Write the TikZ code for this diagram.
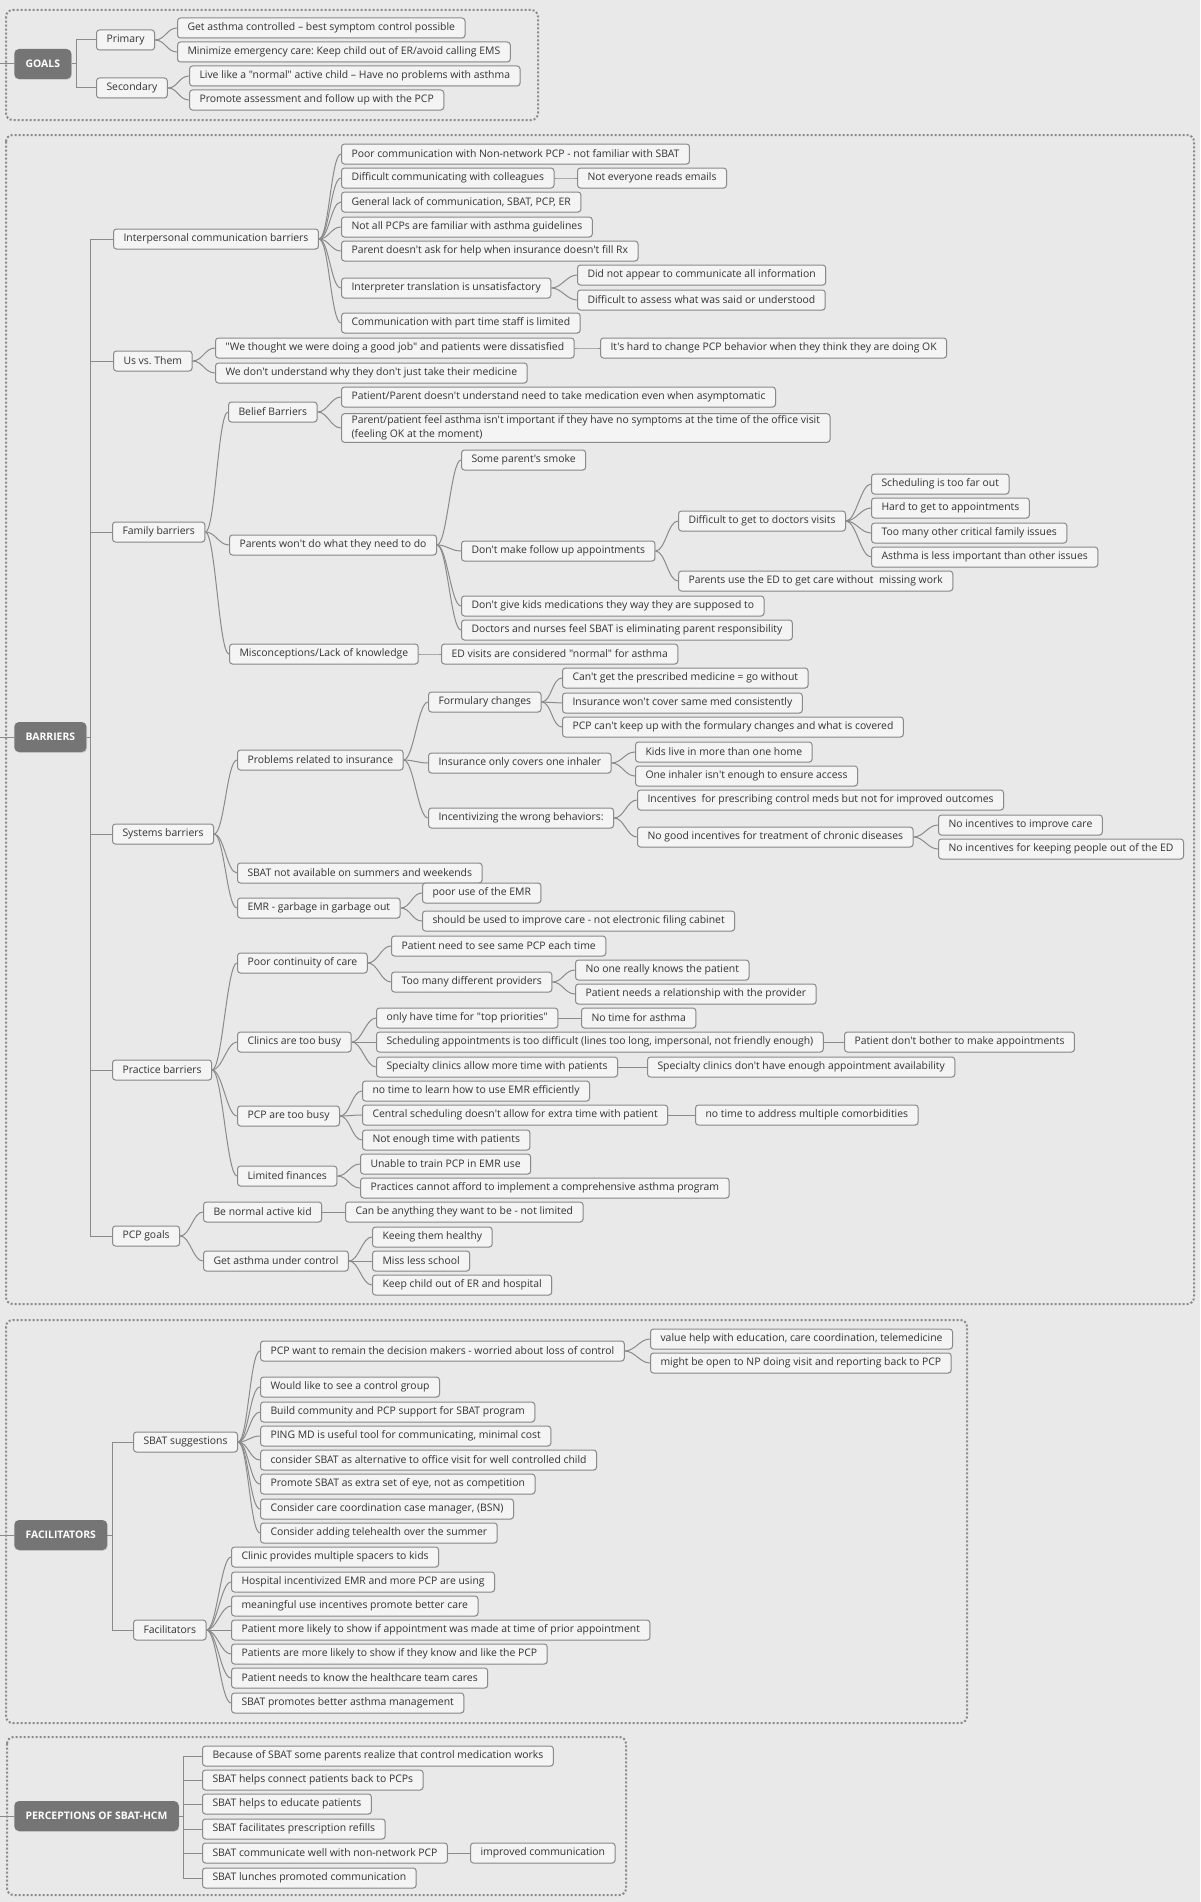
\documentclass[tikz,border=0pt]{standalone}
\usepackage{fontspec}
\setmainfont{Open Sans}[Ligatures=TeXOff]
\usepackage{tikz}
\usetikzlibrary{shadows}
\frenchspacing
\definecolor{fond}{HTML}{E9E9E9}
\definecolor{bordure}{HTML}{8A8A8A}
\definecolor{boite}{HTML}{F4F4F4}
\definecolor{racinegris}{HTML}{757575}
\definecolor{texte}{HTML}{333333}
\tikzstyle{racine} = [anchor=west,fill=racinegris,text=white,rounded corners=3.5pt,minimum height=22.5pt,inner xsep=8.5pt,font=\fontsize{7.8}{9.4}\selectfont\bfseries,drop shadow={opacity=0.25,shadow xshift=0.5pt,shadow yshift=-0.6pt}]
\tikzstyle{feuille} = [anchor=west,draw=bordure,fill=boite,text=texte,line width=0.75pt,rounded corners=2.25pt,minimum height=15pt,inner xsep=7.5pt,inner ysep=1.5pt,font=\fontsize{7.8}{10.6}\selectfont,drop shadow={opacity=0.18,shadow xshift=0.4pt,shadow yshift=-0.5pt}]
\tikzstyle{lien} = [draw=bordure,line width=0.75pt,to path={.. controls +(10,0) and +(-10,0) .. (\tikztotarget)}]
\tikzstyle{coude} = [draw=bordure,line width=0.75pt]
\tikzstyle{cadre} = [draw=bordure,line width=1.5pt,dash pattern=on 1.5pt off 1.5pt,rounded corners=5pt]

\begin{document}
\begin{tikzpicture}[x=0.75pt,y=-0.75pt]
	\useasboundingbox (0,0) rectangle (1200,1902);
	\fill[fond] (0,0) rectangle (1200,1902);

	% frames
	\draw[cadre] (6,10) rectangle (538,120);
	\draw[cadre] (6,135) rectangle (1194,1304);
	\draw[cadre] (6,1320) rectangle (967,1723);
	\draw[cadre] (7,1737) rectangle (626,1895);

	% GOALS
	\coordinate (G0) at (0,64);
	\node[racine] (G) at (14,64) {GOALS};
	\node[feuille] (GP) at (96,40) {Primary};
	\node[feuille] (GS) at (96,88) {Secondary};
	\node[feuille] (GP1) at (177,28) {Get asthma controlled – best symptom control possible};
	\node[feuille] (GP2) at (177,52) {Minimize emergency care: Keep child out of ER/avoid calling EMS};
	\node[feuille] (GS1) at (189,76) {Live like a "normal" active child – Have no problems with asthma};
	\node[feuille] (GS2) at (189,100) {Promote assessment and follow up with the PCP};

	\draw[coude] (G0) -- (G.west);
	\foreach \c in {GP,GS} \draw[coude] (G.east) -- ++(5,0) |- (\c.west);
	\foreach \c in {GP1,GP2} \draw[lien] (GP.east) to (\c.west);
	\foreach \c in {GS1,GS2} \draw[lien] (GS.east) to (\c.west);

	% BARRIERS
	\coordinate (B0) at (0,737);
	\node[racine] (B) at (14,737) {BARRIERS};

	\node[feuille] (B1) at (113,239) {Interpersonal communication barriers};
	\node[feuille] (B1a) at (341,154) {Poor communication with Non-network PCP - not familiar with SBAT};
	\node[feuille] (B1b) at (341,178) {Difficult communicating with colleagues};
	\node[feuille] (B1b1) at (577,178) {Not everyone reads emails};
	\node[feuille] (B1c) at (341,202) {General lack of communication, SBAT, PCP, ER};
	\node[feuille] (B1d) at (341,227) {Not all PCPs are familiar with asthma guidelines};
	\node[feuille] (B1e) at (341,251) {Parent doesn't ask for help when insurance doesn't fill Rx};
	\node[feuille] (B1f) at (341,288) {Interpreter translation is unsatisfactory};
	\node[feuille] (B1f1) at (577,275) {Did not appear to communicate all information};
	\node[feuille] (B1f2) at (577,300) {Difficult to assess what was said or understood};
	\node[feuille] (B1g) at (341,323) {Communication with part time staff is limited};

	\node[feuille] (B2) at (113,361) {Us vs. Them};
	\node[feuille] (B2a) at (215,348) {"We thought we were doing a good job" and patients were dissatisfied};
	\node[feuille] (B2a1) at (600,348) {It's hard to change PCP behavior when they think they are doing OK};
	\node[feuille] (B2b) at (215,373) {We don't understand why they don't just take their medicine};

	\node[feuille] (B3) at (112,532) {Family barriers};
	\node[feuille] (B3a) at (228,412) {Belief Barriers};
	\node[feuille] (B3a1) at (341,397) {Patient/Parent doesn't understand need to take medication even when asymptomatic};
	\node[feuille,align=left] (B3a2) at (341,428) {Parent/patient feel asthma isn't important if they have no symptoms at the time of the office visit\\(feeling OK at the moment)};
	\node[feuille] (B3b) at (229,545) {Parents won't do what they need to do};
	\node[feuille] (B3b1) at (461,460) {Some parent's smoke};
	\node[feuille] (B3b2) at (461,551) {Don't make follow up appointments};
	\node[feuille] (B3b2a) at (678,521) {Difficult to get to doctors visits};
	\node[feuille] (B3b2a1) at (871,484) {Scheduling is too far out};
	\node[feuille] (B3b2a2) at (871,508) {Hard to get to appointments};
	\node[feuille] (B3b2a3) at (871,533) {Too many other critical family issues};
	\node[feuille] (B3b2a4) at (871,557) {Asthma is less important than other issues};
	\node[feuille] (B3b2b) at (678,581) {Parents use the ED to get care without\ \ missing work};
	\node[feuille] (B3b3) at (461,606) {Don't give kids medications they way they are supposed to};
	\node[feuille] (B3b4) at (461,630) {Doctors and nurses feel SBAT is eliminating parent responsibility};
	\node[feuille] (B3c) at (229,654) {Misconceptions/Lack of knowledge};
	\node[feuille] (B3c1) at (441,654) {ED visits are considered "normal" for asthma};

	\node[feuille] (B4) at (112,834) {Systems barriers};
	\node[feuille] (B4a) at (237,760) {Problems related to insurance};
	\node[feuille] (B4a1) at (428,702) {Formulary changes};
	\node[feuille] (B4a1a) at (562,678) {Can't get the prescribed medicine = go without};
	\node[feuille] (B4a1b) at (562,703) {Insurance won't cover same med consistently};
	\node[feuille] (B4a1c) at (562,727) {PCP can't keep up with the formulary changes and what is covered};
	\node[feuille] (B4a2) at (428,763) {Insurance only covers one inhaler};
	\node[feuille] (B4a2a) at (635,752) {Kids live in more than one home};
	\node[feuille] (B4a2b) at (635,776) {One inhaler isn't enough to ensure access};
	\node[feuille] (B4a3) at (428,818) {Incentivizing the wrong behaviors:};
	\node[feuille] (B4a3a) at (637,800) {Incentives\ \ for prescribing control meds but not for improved outcomes};
	\node[feuille] (B4a3b) at (637,837) {No good incentives for treatment of chronic diseases};
	\node[feuille] (B4a3b1) at (938,825) {No incentives to improve care};
	\node[feuille] (B4a3b2) at (938,849) {No incentives for keeping people out of the ED};
	\node[feuille] (B4b) at (237,873) {SBAT not available on summers and weekends};
	\node[feuille] (B4c) at (237,908) {EMR - garbage in garbage out};
	\node[feuille] (B4c1) at (422,893) {poor use of the EMR};
	\node[feuille] (B4c2) at (422,921) {should be used to improve care - not electronic filing cabinet};

	\node[feuille] (B5) at (112,1070) {Practice barriers};
	\node[feuille] (B5a) at (237,963) {Poor continuity of care};
	\node[feuille] (B5a1) at (391,946) {Patient need to see same PCP each time};
	\node[feuille] (B5a2) at (391,982) {Too many different providers};
	\node[feuille] (B5a2a) at (575,970) {No one really knows the patient};
	\node[feuille] (B5a2b) at (575,994) {Patient needs a relationship with the provider};
	\node[feuille] (B5b) at (237,1042) {Clinics are too busy};
	\node[feuille] (B5b1) at (376,1018) {only have time for "top priorities"};
	\node[feuille] (B5b1a) at (581,1018) {No time for asthma};
	\node[feuille] (B5b2) at (376,1042) {Scheduling appointments is too difficult (lines too long, impersonal, not friendly enough)};
	\node[feuille] (B5b2a) at (844,1042) {Patient don't bother to make appointments};
	\node[feuille] (B5b3) at (376,1067) {Specialty clinics allow more time with patients};
	\node[feuille] (B5b3a) at (647,1067) {Specialty clinics don't have enough appointment availability};
	\node[feuille] (B5c) at (237,1116) {PCP are too busy};
	\node[feuille] (B5c1) at (362,1091) {no time to learn how to use EMR efficiently};
	\node[feuille] (B5c2) at (362,1115) {Central scheduling doesn't allow for extra time with patient};
	\node[feuille] (B5c2a) at (695,1115) {no time to address multiple comorbidities};
	\node[feuille] (B5c3) at (362,1140) {Not enough time with patients};
	\node[feuille] (B5d) at (237,1176) {Limited finances};
	\node[feuille] (B5d1) at (360,1164) {Unable to train PCP in EMR use};
	\node[feuille] (B5d2) at (360,1188) {Practices cannot afford to implement a comprehensive asthma program};

	\node[feuille] (B6) at (112,1236) {PCP goals};
	\node[feuille] (B6a) at (203,1212) {Be normal active kid};
	\node[feuille] (B6a1) at (345,1212) {Can be anything they want to be - not limited};
	\node[feuille] (B6b) at (203,1261) {Get asthma under control};
	\node[feuille] (B6b1) at (372,1237) {Keeing them healthy};
	\node[feuille] (B6b2) at (372,1261) {Miss less school};
	\node[feuille] (B6b3) at (372,1285) {Keep child out of ER and hospital};

	\draw[coude] (B0) -- (B.west);
	\foreach \c in {B1,B2,B3,B4,B5,B6} \draw[coude] (B.east) -- ++(4,0) |- (\c.west);
	\foreach \c in {B1a,B1b,B1c,B1d,B1e,B1f,B1g} \draw[lien] (B1.east) to (\c.west);
	\draw[lien] (B1b.east) to (B1b1.west);
	\foreach \c in {B1f1,B1f2} \draw[lien] (B1f.east) to (\c.west);
	\foreach \c in {B2a,B2b} \draw[lien] (B2.east) to (\c.west);
	\draw[lien] (B2a.east) to (B2a1.west);
	\foreach \c in {B3a,B3b,B3c} \draw[lien] (B3.east) to (\c.west);
	\foreach \c in {B3a1,B3a2} \draw[lien] (B3a.east) to (\c.west);
	\foreach \c in {B3b1,B3b2,B3b3,B3b4} \draw[lien] (B3b.east) to (\c.west);
	\foreach \c in {B3b2a,B3b2b} \draw[lien] (B3b2.east) to (\c.west);
	\foreach \c in {B3b2a1,B3b2a2,B3b2a3,B3b2a4} \draw[lien] (B3b2a.east) to (\c.west);
	\draw[lien] (B3c.east) to (B3c1.west);
	\foreach \c in {B4a,B4b,B4c} \draw[lien] (B4.east) to (\c.west);
	\foreach \c in {B4a1,B4a2,B4a3} \draw[lien] (B4a.east) to (\c.west);
	\foreach \c in {B4a1a,B4a1b,B4a1c} \draw[lien] (B4a1.east) to (\c.west);
	\foreach \c in {B4a2a,B4a2b} \draw[lien] (B4a2.east) to (\c.west);
	\foreach \c in {B4a3a,B4a3b} \draw[lien] (B4a3.east) to (\c.west);
	\foreach \c in {B4a3b1,B4a3b2} \draw[lien] (B4a3b.east) to (\c.west);
	\foreach \c in {B4c1,B4c2} \draw[lien] (B4c.east) to (\c.west);
	\foreach \c in {B5a,B5b,B5c,B5d} \draw[lien] (B5.east) to (\c.west);
	\foreach \c in {B5a1,B5a2} \draw[lien] (B5a.east) to (\c.west);
	\foreach \c in {B5a2a,B5a2b} \draw[lien] (B5a2.east) to (\c.west);
	\foreach \c in {B5b1,B5b2,B5b3} \draw[lien] (B5b.east) to (\c.west);
	\draw[lien] (B5b1.east) to (B5b1a.west);
	\draw[lien] (B5b2.east) to (B5b2a.west);
	\draw[lien] (B5b3.east) to (B5b3a.west);
	\foreach \c in {B5c1,B5c2,B5c3} \draw[lien] (B5c.east) to (\c.west);
	\draw[lien] (B5c2.east) to (B5c2a.west);
	\foreach \c in {B5d1,B5d2} \draw[lien] (B5d.east) to (\c.west);
	\foreach \c in {B6a,B6b} \draw[lien] (B6.east) to (\c.west);
	\draw[lien] (B6a.east) to (B6a1.west);
	\foreach \c in {B6b1,B6b2,B6b3} \draw[lien] (B6b.east) to (\c.west);

	% FACILITATORS
	\coordinate (F0) at (0,1535);
	\node[racine] (F) at (14,1535) {FACILITATORS};
	\node[feuille] (F1) at (133,1442) {SBAT suggestions};
	\node[feuille] (F1a) at (260,1351) {PCP want to remain the decision makers - worried about loss of control};
	\node[feuille] (F1a1) at (650,1339) {value help with education, care coordination, telemedicine};
	\node[feuille] (F1a2) at (650,1363) {might be open to NP doing visit and reporting back to PCP};
	\node[feuille] (F1b) at (260,1387) {Would like to see a control group};
	\node[feuille] (F1c) at (260,1412) {Build community and PCP support for SBAT program};
	\node[feuille] (F1d) at (260,1436) {PING MD is useful tool for communicating, minimal cost};
	\node[feuille] (F1e) at (260,1460) {consider SBAT as alternative to office visit for well controlled child};
	\node[feuille] (F1f) at (260,1484) {Promote SBAT as extra set of eye, not as competition};
	\node[feuille] (F1g) at (260,1509) {Consider care coordination case manager, (BSN)};
	\node[feuille] (F1h) at (260,1533) {Consider adding telehealth over the summer};
	\node[feuille] (F2) at (133,1630) {Facilitators};
	\node[feuille] (F2a) at (231,1557) {Clinic provides multiple spacers to kids};
	\node[feuille] (F2b) at (231,1582) {Hospital incentivized EMR and more PCP are using};
	\node[feuille] (F2c) at (231,1606) {meaningful use incentives promote better care};
	\node[feuille] (F2d) at (231,1630) {Patient more likely to show if appointment was made at time of prior appointment};
	\node[feuille] (F2e) at (231,1654) {Patients are more likely to show if they know and like the PCP};
	\node[feuille] (F2f) at (231,1678) {Patient needs to know the healthcare team cares};
	\node[feuille] (F2g) at (231,1703) {SBAT promotes better asthma management};

	\draw[coude] (F0) -- (F.west);
	\foreach \c in {F1,F2} \draw[coude] (F.east) -- ++(5,0) |- (\c.west);
	\foreach \c in {F1a,F1b,F1c,F1d,F1e,F1f,F1g,F1h} \draw[lien] (F1.east) to (\c.west);
	\foreach \c in {F1a1,F1a2} \draw[lien] (F1a.east) to (\c.west);
	\foreach \c in {F2a,F2b,F2c,F2d,F2e,F2f,F2g} \draw[lien] (F2.east) to (\c.west);

	% PERCEPTIONS
	\coordinate (P0) at (0,1816);
	\node[racine] (P) at (14,1816) {PERCEPTIONS OF SBAT-HCM};
	\node[feuille] (P1) at (202,1756) {Because of SBAT some parents realize that control medication works};
	\node[feuille] (P2) at (202,1780) {SBAT helps connect patients back to PCPs};
	\node[feuille] (P3) at (202,1804) {SBAT helps to educate patients};
	\node[feuille] (P4) at (202,1829) {SBAT facilitates prescription refills};
	\node[feuille] (P5) at (202,1853) {SBAT communicate well with non-network PCP};
	\node[feuille] (P5a) at (470,1853) {improved communication};
	\node[feuille] (P6) at (202,1878) {SBAT lunches promoted communication};

	\draw[coude] (P0) -- (P.west);
	\foreach \c in {P1,P2,P3,P4,P5,P6} \draw[coude] (P.east) -- ++(4,0) |- (\c.west);
	\draw[coude] (P5.east) -- (P5a.west);

\end{tikzpicture}
\end{document}
